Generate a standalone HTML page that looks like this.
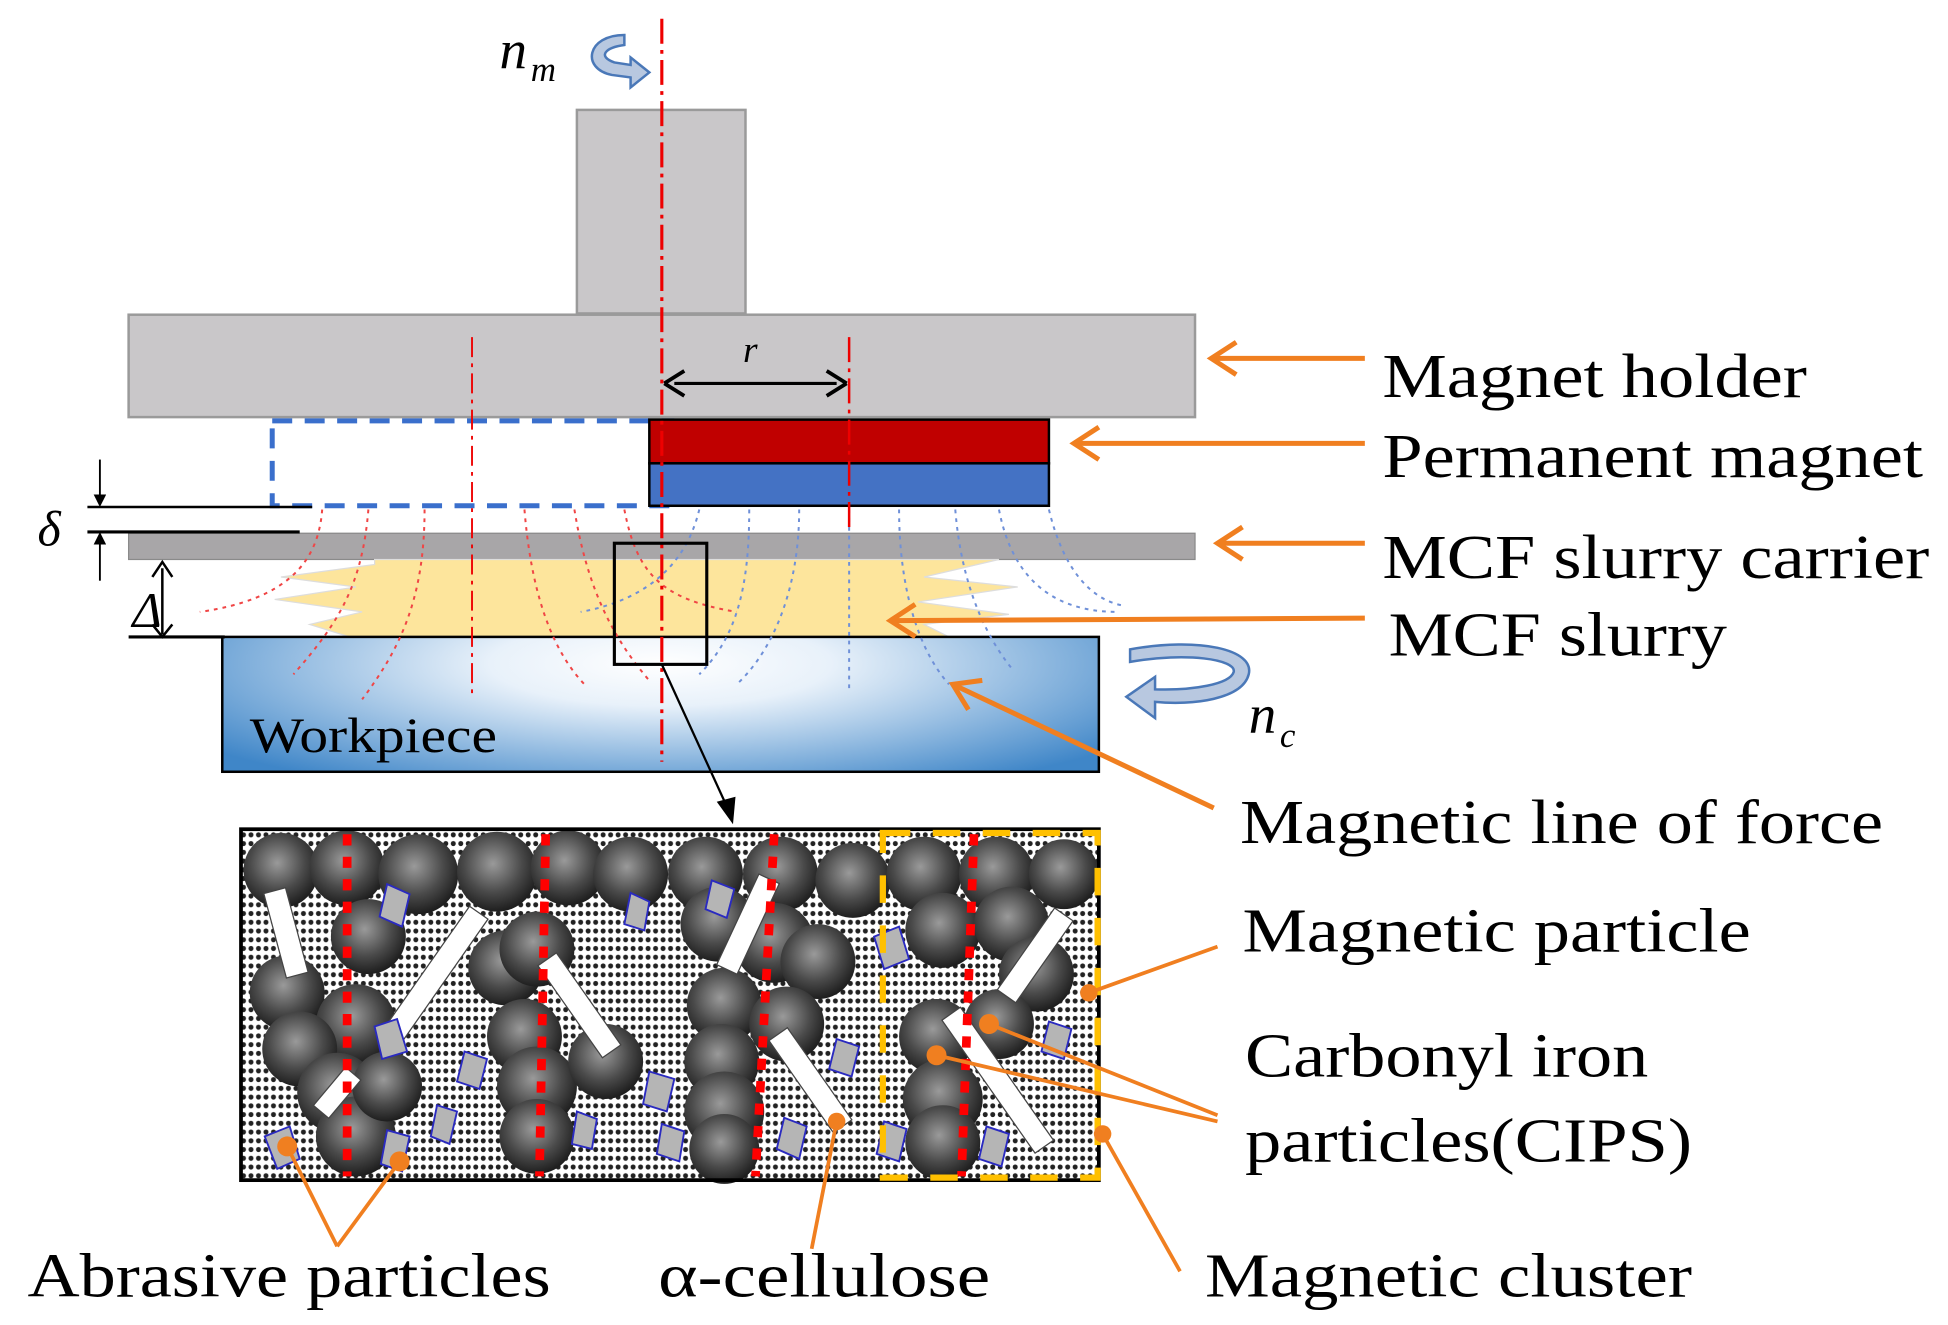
<!DOCTYPE html>
<html><head><meta charset="utf-8"><style>
html,body{margin:0;padding:0;background:#fff;}
svg{display:block;}
text{font-family:"Liberation Serif",serif;}
</style></head><body>
<svg width="1948" height="1325" viewBox="0 0 1560 1061" preserveAspectRatio="none" xmlns="http://www.w3.org/2000/svg">
<defs>
<radialGradient id="wp" cx="0.5" cy="0.2" r="0.65" gradientTransform="translate(0.5 0.2) scale(1 1.6) translate(-0.5 -0.2)">
<stop offset="0" stop-color="#ffffff"/><stop offset="0.3" stop-color="#e8f1fa"/><stop offset="1" stop-color="#3f86c8"/></radialGradient>
<radialGradient id="sp" cx="0.45" cy="0.4" r="0.6">
<stop offset="0" stop-color="#9a9a9a"/><stop offset="0.6" stop-color="#4a4a4a"/><stop offset="1" stop-color="#1e1e1e"/></radialGradient>
<pattern id="dots" width="6" height="7" patternUnits="userSpaceOnUse">
<rect width="6" height="7" fill="#fff"/><circle cx="3" cy="3.5" r="2" fill="#222"/></pattern>
<marker id="ah" markerWidth="10" markerHeight="10" refX="8" refY="5" orient="auto" markerUnits="userSpaceOnUse">
<path d="M0,0 L10,5 L0,10 z" fill="#000"/></marker>
<marker id="oh" markerWidth="32" markerHeight="32" refX="26" refY="15" orient="auto" markerUnits="userSpaceOnUse">
<path d="M6,2 L26,15 L6,28" fill="none" stroke="#f07f20" stroke-width="4"/></marker>
</defs>

<!-- shaft & holder -->
<rect x="462" y="88" width="135" height="163" fill="#c9c7c9" stroke="#9a9a9a" stroke-width="2"/>
<rect x="103" y="252" width="854" height="82" fill="#c9c7c9" stroke="#9a9a9a" stroke-width="2"/>
<rect x="218" y="337" width="320" height="68" fill="none" stroke="#3a6fcc" stroke-width="4" stroke-dasharray="16,10"/>
<rect x="520" y="336" width="320" height="35" fill="#c00000" stroke="#000" stroke-width="2"/>
<rect x="520" y="371" width="320" height="34" fill="#4472c4" stroke="#000" stroke-width="2"/>
<rect x="103" y="427" width="854" height="21" fill="#a8a6a8" stroke="#8a8a8a" stroke-width="1"/>
<polygon points="300,448 800,448 740,462 815,470 735,482 808,492 740,500 760,510 280,510 248,500 290,490 220,480 285,470 225,462 300,452" fill="#fde59c" stroke="#ddd" stroke-width="1"/>
<rect x="178" y="510" width="702" height="108" fill="url(#wp)" stroke="#000" stroke-width="2"/>
<text x="200" y="602" font-size="40" textLength="198" lengthAdjust="spacingAndGlyphs">Workpiece</text>

<g fill="none" stroke="#f04545" stroke-width="1.6" stroke-dasharray="3,4">
<path d="M258,408 C255,450 230,480 160,490"/>
<path d="M295,408 C290,470 270,500 235,540"/>
<path d="M340,408 C340,480 320,520 290,560"/>
<path d="M420,408 C425,470 440,520 470,550"/>
<path d="M460,408 C470,470 490,510 520,545"/>
<path d="M500,408 C510,460 530,480 590,490"/>
</g>
<g fill="none" stroke="#6f90d8" stroke-width="1.6" stroke-dasharray="3,4">
<path d="M560,408 C550,450 520,480 465,490"/>
<path d="M600,408 C600,470 590,510 560,540"/>
<path d="M640,408 C640,470 620,520 590,548"/>
<path d="M680,408 L680,552"/>
<path d="M720,408 C720,470 735,520 760,548"/>
<path d="M765,408 C770,470 790,510 810,535"/>
<path d="M800,408 C810,460 840,490 895,490"/>
<path d="M840,408 C850,450 870,480 900,485"/>
</g>
<line x1="530" y1="15" x2="530" y2="610" stroke="#e00" stroke-width="2.5" stroke-dasharray="20,5,3,5"/>
<line x1="378" y1="270" x2="378" y2="560" stroke="#e00" stroke-width="1.5" stroke-dasharray="16,5,3,5"/>
<line x1="680" y1="270" x2="680" y2="425" stroke="#e00" stroke-width="2" stroke-dasharray="20,5,3,5"/>
<line x1="540" y1="307" x2="670" y2="307" stroke="#000" stroke-width="2.5"/>
<path d="M532,307 L548,297 M532,307 L548,317 M678,307 L662,297 M678,307 L662,317" stroke="#000" stroke-width="3" fill="none"/>
<text x="595" y="290" font-size="30" font-style="italic">r</text>

<line x1="70" y1="406" x2="250" y2="406" stroke="#000" stroke-width="2"/>
<line x1="70" y1="426" x2="240" y2="426" stroke="#000" stroke-width="2.5"/>
<line x1="80" y1="368" x2="80" y2="404" stroke="#000" stroke-width="1.5" marker-end="url(#ah)"/>
<line x1="80" y1="465" x2="80" y2="428" stroke="#000" stroke-width="1.5" marker-end="url(#ah)"/>
<text x="30" y="437" font-size="40" font-style="italic">δ</text>
<line x1="130" y1="455" x2="130" y2="508" stroke="#000" stroke-width="2"/>
<path d="M122,462 L130,450 L138,462 M122,500 L130,510 L138,500" stroke="#000" stroke-width="2" fill="none"/>
<line x1="103" y1="510" x2="180" y2="510" stroke="#000" stroke-width="2.5"/>
<text x="106" y="502" font-size="40" font-style="italic">Δ</text>

<rect x="492" y="435" width="74" height="97" fill="none" stroke="#000" stroke-width="2.5"/>
<line x1="530" y1="532" x2="584" y2="650" stroke="#000" stroke-width="1.8"/>
<path d="M574,642 L587,660 L589,638 z" fill="#000"/>

<text x="400" y="55" font-size="44" font-style="italic">n</text><text x="425" y="65" font-size="28" font-style="italic">m</text>
<path d="M500,28 C470,28 465,55 490,60 L505,62 L505,70 L520,58 L505,46 L505,52 L492,50 C478,45 485,38 500,36 z" fill="#b8c8e0" stroke="#4a78b8" stroke-width="2"/>
<path d="M905,520 C960,510 1005,520 1000,540 C995,560 955,565 925,562 L925,575 L902,558 L925,542 L925,552 C955,553 985,548 988,538 C990,528 950,522 905,530 z" fill="#b8c8e0" stroke="#4a78b8" stroke-width="2"/>
<text x="1000" y="587" font-size="44" font-style="italic">n</text><text x="1025" y="598" font-size="28" font-style="italic">c</text>

<g stroke="#f07f20" stroke-width="4" fill="none">
<line x1="1093" y1="287" x2="970" y2="287" marker-end="url(#oh)"/>
<line x1="1093" y1="355" x2="860" y2="355" marker-end="url(#oh)"/>
<line x1="1093" y1="435" x2="975" y2="435" marker-end="url(#oh)"/>
<line x1="1093" y1="495" x2="713" y2="497" marker-end="url(#oh)"/>
<line x1="972" y1="647" x2="763" y2="548" marker-end="url(#oh)"/>
</g>

<g font-size="50" fill="#000" lengthAdjust="spacingAndGlyphs">
<text x="1107" y="318" textLength="340" lengthAdjust="spacingAndGlyphs">Magnet holder</text>
<text x="1107" y="382" textLength="433" lengthAdjust="spacingAndGlyphs">Permanent magnet</text>
<text x="1107" y="463" textLength="438" lengthAdjust="spacingAndGlyphs">MCF slurry carrier</text>
<text x="1112" y="525" textLength="271" lengthAdjust="spacingAndGlyphs">MCF slurry</text>
<text x="993" y="675" textLength="515" lengthAdjust="spacingAndGlyphs">Magnetic line of force</text>
<text x="995" y="762" textLength="407" lengthAdjust="spacingAndGlyphs">Magnetic particle</text>
<text x="997" y="862" textLength="323" lengthAdjust="spacingAndGlyphs">Carbonyl iron</text>
<text x="997" y="930" textLength="358" lengthAdjust="spacingAndGlyphs">particles(CIPS)</text>
<text x="22" y="1038" textLength="419" lengthAdjust="spacingAndGlyphs">Abrasive particles</text>
<text x="527" y="1038" textLength="266" lengthAdjust="spacingAndGlyphs">α-cellulose</text>
<text x="965" y="1038" textLength="390" lengthAdjust="spacingAndGlyphs">Magnetic cluster</text>
</g>

<rect x="193" y="664" width="687" height="281" fill="url(#dots)"/>
<g>
<circle cx="225" cy="697" r="30" fill="url(#sp)"/><circle cx="278" cy="695" r="30" fill="url(#sp)"/>
<circle cx="335" cy="700" r="32" fill="url(#sp)"/><circle cx="398" cy="698" r="32" fill="url(#sp)"/>
<circle cx="455" cy="695" r="30" fill="url(#sp)"/><circle cx="505" cy="700" r="30" fill="url(#sp)"/>
<circle cx="565" cy="700" r="30" fill="url(#sp)"/><circle cx="625" cy="700" r="30" fill="url(#sp)"/>
<circle cx="683" cy="705" r="30" fill="url(#sp)"/><circle cx="740" cy="700" r="30" fill="url(#sp)"/>
<circle cx="798" cy="700" r="30" fill="url(#sp)"/><circle cx="852" cy="700" r="28" fill="url(#sp)"/>
<circle cx="295" cy="750" r="30" fill="url(#sp)"/><circle cx="230" cy="795" r="30" fill="url(#sp)"/>
<circle cx="285" cy="820" r="32" fill="url(#sp)"/><circle cx="240" cy="840" r="30" fill="url(#sp)"/>
<circle cx="270" cy="875" r="32" fill="url(#sp)"/><circle cx="285" cy="910" r="32" fill="url(#sp)"/>
<circle cx="310" cy="870" r="28" fill="url(#sp)"/>
<circle cx="405" cy="775" r="30" fill="url(#sp)"/><circle cx="430" cy="760" r="30" fill="url(#sp)"/>
<circle cx="420" cy="830" r="30" fill="url(#sp)"/><circle cx="430" cy="870" r="32" fill="url(#sp)"/>
<circle cx="430" cy="910" r="30" fill="url(#sp)"/><circle cx="485" cy="850" r="30" fill="url(#sp)"/>
<circle cx="575" cy="740" r="30" fill="url(#sp)"/><circle cx="620" cy="755" r="32" fill="url(#sp)"/>
<circle cx="655" cy="770" r="30" fill="url(#sp)"/><circle cx="580" cy="805" r="30" fill="url(#sp)"/>
<circle cx="578" cy="850" r="30" fill="url(#sp)"/><circle cx="580" cy="890" r="32" fill="url(#sp)"/>
<circle cx="580" cy="920" r="28" fill="url(#sp)"/><circle cx="630" cy="820" r="30" fill="url(#sp)"/>
<circle cx="755" cy="745" r="30" fill="url(#sp)"/><circle cx="810" cy="740" r="30" fill="url(#sp)"/>
<circle cx="830" cy="780" r="30" fill="url(#sp)"/><circle cx="750" cy="830" r="30" fill="url(#sp)"/>
<circle cx="800" cy="820" r="28" fill="url(#sp)"/><circle cx="755" cy="880" r="32" fill="url(#sp)"/>
<circle cx="755" cy="915" r="30" fill="url(#sp)"/>
</g>
<g fill="#fff" stroke="#444" stroke-width="1">
<rect x="220" y="712" width="18" height="70" transform="rotate(-15 229 747)"/>
<rect x="340" y="720" width="18" height="120" transform="rotate(35 349 780)"/>
<rect x="455" y="760" width="18" height="90" transform="rotate(-35 464 805)"/>
<rect x="590" y="700" width="18" height="80" transform="rotate(25 599 740)"/>
<rect x="640" y="820" width="18" height="90" transform="rotate(-35 649 865)"/>
<rect x="820" y="725" width="18" height="80" transform="rotate(35 829 765)"/>
<rect x="790" y="800" width="18" height="130" transform="rotate(-35 799 865)"/>
<rect x="262" y="855" width="16" height="40" transform="rotate(40 270 875)"/>
</g>
<g fill="#b5b5b5" stroke="#2a2ac0" stroke-width="1.5">
<polygon points="310,708 328,716 322,742 304,734"/>
<polygon points="505,715 520,722 516,745 500,740"/>
<polygon points="570,705 588,712 582,735 565,728"/>
<polygon points="700,750 720,742 728,768 708,776"/>
<polygon points="300,822 318,816 326,842 306,848"/>
<polygon points="372,842 390,848 384,872 366,866"/>
<polygon points="350,885 366,890 360,916 345,910"/>
<polygon points="520,858 540,864 534,890 515,884"/>
<polygon points="462,890 478,896 474,920 458,916"/>
<polygon points="530,900 548,906 544,930 526,924"/>
<polygon points="670,832 688,838 682,862 664,856"/>
<polygon points="628,895 646,902 640,928 622,920"/>
<polygon points="840,818 858,824 852,848 834,842"/>
<polygon points="212,910 232,902 240,928 222,936"/>
<polygon points="310,905 328,910 322,938 305,932"/>
<polygon points="708,898 726,904 720,930 702,924"/>
<polygon points="790,902 808,908 802,934 784,928"/>
</g>
<g stroke="#f00" stroke-width="7" stroke-dasharray="9,9">
<line x1="278" y1="668" x2="278" y2="942"/>
<line x1="437" y1="668" x2="432" y2="942"/>
<line x1="620" y1="668" x2="605" y2="942"/>
<line x1="780" y1="668" x2="770" y2="942"/>
</g>
<rect x="193" y="664" width="687" height="281" fill="none" stroke="#000" stroke-width="3"/>
<rect x="707" y="667" width="172" height="276" fill="none" stroke="#ffc000" stroke-width="5" stroke-dasharray="22,18"/>

<g stroke="#f07f20" stroke-width="3" fill="none">
<line x1="975" y1="758" x2="872" y2="795"/>
<line x1="975" y1="893" x2="792" y2="820"/>
<line x1="975" y1="898" x2="750" y2="845"/>
<line x1="945" y1="1018" x2="883" y2="908"/>
<line x1="270" y1="998" x2="230" y2="918"/>
<line x1="270" y1="998" x2="320" y2="930"/>
<line x1="650" y1="1000" x2="670" y2="898"/>
</g>
<g fill="#f07f20">
<circle cx="872" cy="795" r="7"/><circle cx="792" cy="820" r="8"/><circle cx="750" cy="845" r="8"/>
<circle cx="883" cy="908" r="7"/><circle cx="230" cy="918" r="8"/><circle cx="320" cy="930" r="8"/>
<circle cx="670" cy="898" r="7"/>
</g>
</svg>
</body></html>
